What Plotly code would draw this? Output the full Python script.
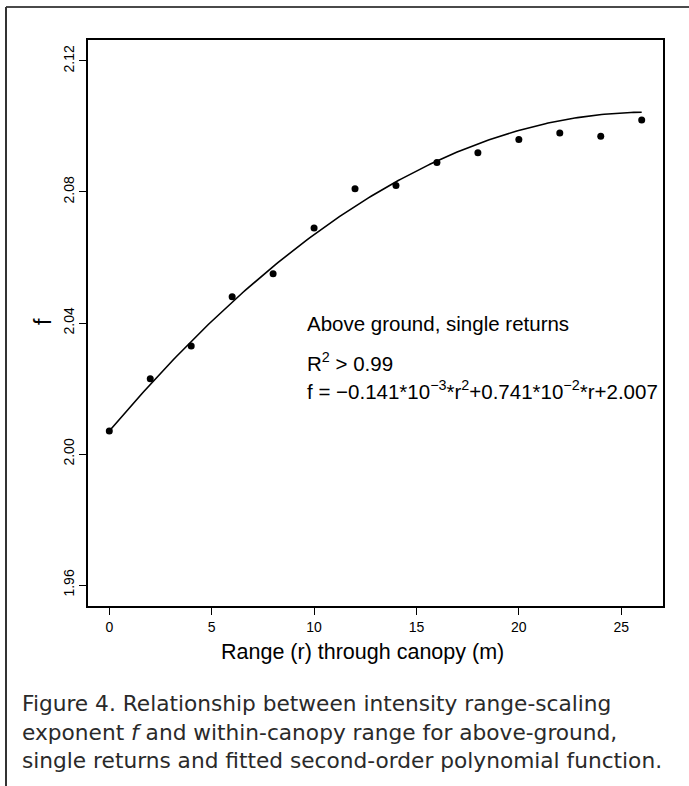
import numpy as np
import plotly.graph_objects as go

# ---- data ----
r_values = [0, 2, 4, 6, 8, 10, 12, 14, 16, 18, 20, 22, 24, 26]
f_values = [2.007, 2.023, 2.033, 2.048, 2.055, 2.069, 2.081, 2.082, 2.089, 2.092, 2.096, 2.098, 2.097, 2.102]
# fitted second-order polynomial (coefficients stated on the chart)
fit_a = -0.141e-3
fit_b = 0.741e-2
fit_c = 2.007
x_ticks = [0, 5, 10, 15, 20, 25]
y_ticks = [1.96, 2.00, 2.04, 2.08, 2.12]

W, H = 689, 786
PL, PR, PT, PB = 88, 663, 40, 606


def px(xp):
    return (xp - PL) / (PR - PL)


def py(yp):
    return (PB - yp) / (PB - PT)


r_fit = np.linspace(min(r_values), max(r_values), 200)
f_fit = fit_a * r_fit ** 2 + fit_b * r_fit + fit_c

FONT = "Liberation Sans, Arial, sans-serif"
CAP_FONT = "DejaVu Sans, Liberation Sans, sans-serif"

fig = go.Figure()
fig.add_trace(go.Scatter(x=r_fit, y=f_fit, mode="lines",
                         line=dict(color="black", width=1.6), showlegend=False,
                         hoverinfo="skip"))
fig.add_trace(go.Scatter(x=r_values, y=f_values, mode="markers",
                         marker=dict(color="black", size=7), showlegend=False))

axis_common = dict(showgrid=False, zeroline=False, showline=True, mirror=True,
                   linecolor="black", linewidth=1.6, ticks="outside", ticklen=7,
                   tickwidth=1.4, tickcolor="black",
                   tickfont=dict(family=FONT, size=14, color="black"))

fig.update_xaxes(range=[-1.04, 27.04], tickvals=x_ticks,
                 ticktext=[str(v) for v in x_ticks], **axis_common)
fig.update_yaxes(range=[1.9536, 2.1264], tickvals=y_ticks,
                 ticktext=[f"{v:.2f}" for v in y_ticks], tickangle=-90, **axis_common)

annotations = [
    dict(text="Above ground, single returns", x=px(305), y=py(323), xanchor="left",
         yanchor="middle", font=dict(size=20.5)),
    dict(text="R<sup>2</sup> &gt; 0.99", x=px(305), y=py(362), xanchor="left",
         yanchor="middle", font=dict(size=20.5)),
    dict(text="f = \u22120.141*10<sup>\u22123</sup>*r<sup>2</sup>+0.741*10<sup>\u22122</sup>*r+2.007",
         x=px(305), y=py(390), xanchor="left", yanchor="middle", font=dict(size=20.5)),
    dict(text="f", x=px(43), y=py(322), xanchor="center", yanchor="middle",
         textangle=-90, font=dict(size=23)),
    dict(text="Range (r) through canopy (m)", x=px(362), y=py(652), xanchor="center",
         yanchor="middle", font=dict(size=21.5)),
    dict(text="Figure 4. Relationship between intensity range-scaling", x=px(20), y=py(704),
         xanchor="left", yanchor="middle", font=dict(size=21.7, color="#2a2a2a", family=CAP_FONT)),
    dict(text="exponent <i>f</i> and within-canopy range for above-ground,", x=px(20), y=py(732),
         xanchor="left", yanchor="middle", font=dict(size=21.7, color="#2a2a2a", family=CAP_FONT)),
    dict(text="single returns and fitted second-order polynomial function.", x=px(20), y=py(760),
         xanchor="left", yanchor="middle", font=dict(size=21.7, color="#2a2a2a", family=CAP_FONT)),
]
for a in annotations:
    a.update(xref="paper", yref="paper", showarrow=False)
    a["font"] = dict(family=a["font"].get("family", FONT),
                     color=a["font"].get("color", "black"), size=a["font"]["size"])

shapes = [
    dict(type="line", xref="paper", yref="paper", x0=px(6), x1=px(689), y0=py(7), y1=py(7),
         line=dict(color="#4a4a4a", width=2)),
    dict(type="line", xref="paper", yref="paper", x0=px(6), x1=px(6), y0=py(7), y1=py(786),
         line=dict(color="#333333", width=2)),
]

fig.update_layout(width=W, height=H, margin=dict(l=PL, r=W - PR, t=PT, b=H - PB),
                  paper_bgcolor="white", plot_bgcolor="white",
                  annotations=annotations, shapes=shapes, showlegend=False)

fig.write_html("out.html")
